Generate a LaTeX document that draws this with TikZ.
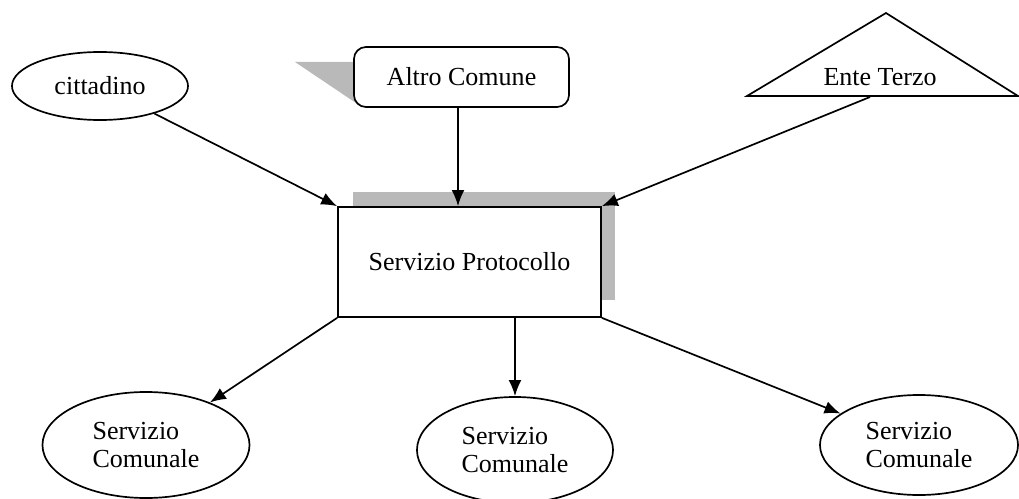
\documentclass[tikz,border=0pt]{standalone}
\usepackage{fontspec}
\setmainfont{Liberation Serif}
\usetikzlibrary{shapes.geometric,arrows.meta}
\tikzstyle{actor}=[draw,ellipse,line width=1.2pt,fill=white]
\tikzstyle{servizio}=[actor,align=left]
\tikzstyle{ufficio}=[draw,rectangle,line width=1.2pt,fill=white]
\tikzstyle{ombra}=[fill=gray!55,draw=none]
\newcommand{\newArrow}[2]{\draw[->] (#1) -- (#2);}

\begin{document}
\begin{tikzpicture}[x=0.025cm,y=-0.025cm,
    >={Latex[length=4mm,width=3.2mm]},
    line width=1.2pt,
    every node/.style={font=\fontsize{18.5}{20.6}\selectfont}
    ]
    \useasboundingbox (0,0) rectangle (1019,499);
    % shadows
    \fill[ombra] (295,62) -- (356,62) -- (356,103) -- cycle;
    \fill[ombra] (353,192) rectangle (615,300);
    % sources
    \node[actor,minimum width=4.4cm,minimum height=1.7cm] (cit) at (100,86) {cittadino};
    \node[ufficio,rounded corners=0.3cm,minimum width=5.375cm,minimum height=1.5cm] (alt) at (461.5,77) {Altro Comune};
    \draw (747,96) -- (886,13) -- (1018,96) -- cycle;
    \node (ente) at (880,77) {Ente Terzo};
    \coordinate (enteB) at (870,97);
    % protocol
    \node[ufficio,minimum width=6.575cm,minimum height=2.75cm] (proto) at (469.5,262) {Servizio Protocollo};
    % targets
    \node[servizio,minimum width=5.175cm,minimum height=2.65cm] (sc1) at (146,445) {Servizio\\Comunale};
    \node[servizio,minimum width=4.9cm,minimum height=2.65cm] (sc2) at (515,450) {Servizio\\Comunale};
    \node[servizio,minimum width=4.95cm,minimum height=2.5cm] (sc3) at (919,445) {Servizio\\Comunale};
    % arrows
    \newArrow{cit}{proto.north west}
    \draw[->] (alt.south -| 458,0) -- (458,0 |- proto.north);
    \newArrow{enteB}{proto.north east}
    \newArrow{proto.south west}{sc1}
    \draw[->] (sc2 |- proto.south) -- (sc2);
    \newArrow{proto.south east}{sc3}
\end{tikzpicture}
\end{document}
